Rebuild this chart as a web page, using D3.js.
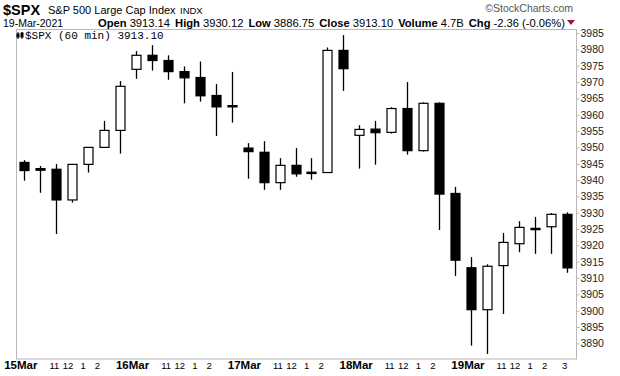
<!DOCTYPE html>
<html>
<head>
<meta charset="utf-8">
<script src="https://cdn.jsdelivr.net/npm/d3@7"></script>
<style>
  body { margin: 0; background: #fff; }
  svg { display: block; font-family: "Liberation Sans", Arial, sans-serif; }
</style>
</head>
<body>
<div class="chart"></div>
<script>
// Hourly candles, 15Mar - 19Mar 2021 (7 bars a day)
let opens = [3945.4, 3943.5, 3943.3, 3933.9, 3944.8, 3950.0, 3955.2,
    3973.9, 3978.2, 3976.6, 3973.2, 3971.4, 3965.9, 3962.8,
    3949.8, 3948.5, 3939.2, 3944.5, 3942.4, 3942.3, 3979.7,
    3953.7, 3955.6, 3954.6, 3961.9, 3949.0, 3963.5, 3935.9,
    3913.14, 3900.3, 3913.8, 3920.5, 3925.2, 3925.7, 3929.5];
let highs = [3946.1, 3944.3, 3944.9, 3944.9, 3950.1, 3958.1, 3970.3,
    3979.5, 3981.3, 3978.2, 3974.8, 3976.3, 3969.4, 3973.1,
    3951.3, 3951.9, 3946.7, 3949.8, 3946.7, 3980.6, 3984.4,
    3956.8, 3958.1, 3962.3, 3970.0, 3963.8, 3963.8, 3937.9,
    3916.4, 3914.2, 3923.8, 3927.4, 3928.7, 3929.9, 3930.12];
let lows = [3939.8, 3936.1, 3923.5, 3933.1, 3942.3, 3949.9, 3948.1,
    3971.0, 3973.5, 3970.7, 3963.5, 3964.0, 3953.5, 3957.6,
    3940.4, 3937.0, 3937.0, 3941.0, 3940.1, 3942.2, 3967.3,
    3943.5, 3944.7, 3954.2, 3947.8, 3948.7, 3924.7, 3910.6,
    3889.3, 3886.75, 3899.0, 3917.9, 3917.4, 3917.4, 3911.6];
let closes = [3942.9, 3943.0, 3933.9, 3944.8, 3950.0, 3955.2, 3968.7,
    3978.2, 3976.6, 3973.2, 3971.3, 3965.8, 3962.4, 3962.4,
    3948.7, 3939.2, 3944.5, 3941.9, 3942.0, 3979.7, 3974.1,
    3955.5, 3954.5, 3961.9, 3949.0, 3963.5, 3935.7, 3915.46,
    3900.3, 3913.6, 3920.9, 3925.5, 3924.8, 3929.5, 3913.10];

let dayLabels = ["15Mar", "16Mar", "17Mar", "18Mar", "19Mar"];
let hourLabels = ["11", "12", "1", "2"];
let hourOffsets = [1.9, 2.75, 3.7, 4.6];   // in bars from the day's first bar
let lastHourLabel = "3";
let yTicks = d3.range(3890, 3986, 5);

let svgWidth = 620;
let svgHeight = 376;
let plot = { left: 16, right: 576, top: 29.5, bottom: 359 };

let svg = d3.select(".chart")
    .append("svg")
    .attr("width", svgWidth)
    .attr("height", svgHeight);

svg.append("rect")
    .attr("width", svgWidth)
    .attr("height", svgHeight)
    .attr("fill", "#fff");

// scales
let x = d3.scaleLinear()
    .domain([0, opens.length - 1])
    .range([24, 567]);

let y = d3.scaleLinear()
    .domain([3885.2, 3986.1])
    .range([plot.bottom, plot.top]);

// frame
svg.append("rect")
    .attr("x", plot.left + 0.5)
    .attr("y", plot.top)
    .attr("width", plot.right - plot.left)
    .attr("height", plot.bottom - plot.top)
    .attr("fill", "none")
    .attr("stroke", "#b8b8b8")
    .attr("stroke-width", 1);

// right axis
let yAxis = svg.append("g")
    .attr("transform", `translate(${plot.right + 0.5},0)`)
    .call(d3.axisRight(y).tickValues(yTicks).tickSize(3).tickPadding(1).tickFormat(d3.format("d")));
yAxis.select(".domain").remove();
yAxis.selectAll("line").attr("stroke", "#b8b8b8");
yAxis.selectAll("text")
    .attr("font-family", "Liberation Sans, Arial, sans-serif")
    .attr("font-size", 10.5)
    .attr("fill", "#222");

// candles
let candles = svg.append("g");
let bodyW = 9;

d3.range(opens.length).forEach(function(i) {
    let up = closes[i] >= opens[i];
    let cx = Math.round(x(i)) + 0.5;
    candles.append("line")
        .attr("x1", cx).attr("x2", cx)
        .attr("y1", y(highs[i]))
        .attr("y2", y(lows[i]))
        .attr("stroke", "#000")
        .attr("stroke-width", 1.3);
    let top = y(Math.max(opens[i], closes[i]));
    let bot = y(Math.min(opens[i], closes[i]));
    candles.append("rect")
        .attr("x", cx - bodyW / 2)
        .attr("y", top)
        .attr("width", bodyW)
        .attr("height", Math.max(bot - top, 0.6))
        .attr("fill", up ? "#fff" : "#000")
        .attr("stroke", "#000")
        .attr("stroke-width", 1.2);
});

// x labels
let xLabels = svg.append("g")
    .attr("font-family", "Liberation Sans, Arial, sans-serif")
    .attr("fill", "#000");

dayLabels.forEach(function(d, k) {
    let first = k * 7;
    xLabels.append("text")
        .attr("x", x(first - 0.2))
        .attr("y", 369)
        .attr("text-anchor", "middle")
        .attr("font-weight", "bold")
        .attr("font-size", 11.5)
        .text(d);
    hourLabels.forEach(function(h, j) {
        xLabels.append("text")
            .attr("x", x(first + hourOffsets[j]))
            .attr("y", 369)
            .attr("text-anchor", "middle")
            .attr("font-size", 9.5)
            .text(h);
    });
});
xLabels.append("text")
    .attr("x", x(opens.length - 1.15))
    .attr("y", 369)
    .attr("text-anchor", "middle")
    .attr("font-size", 9.5)
    .text(lastHourLabel);

// header
svg.append("text")
    .attr("x", 3).attr("y", 14.5)
    .attr("font-weight", "bold")
    .attr("font-size", 14.5)
    .text("$SPX");
svg.append("text")
    .attr("x", 48).attr("y", 14)
    .attr("font-size", 11)
    .text("S&P 500 Large Cap Index");
svg.append("text")
    .attr("x", 180).attr("y", 14)
    .attr("font-size", 9.5)
    .text("INDX");
svg.append("text")
    .attr("x", 573).attr("y", 12)
    .attr("text-anchor", "end")
    .attr("font-size", 10.5)
    .attr("fill", "#555")
    .text("\u00a9StockCharts.com");

svg.append("text")
    .attr("x", 3).attr("y", 27)
    .attr("font-size", 10.5)
    .text("19-Mar-2021");

let info = [["Open", "3913.14"], ["High", "3930.12"], ["Low", "3886.75"],
    ["Close", "3913.10"], ["Volume", "4.7B"], ["Chg", "-2.36 (-0.06%)"]];
let infoText = svg.append("text")
    .attr("x", 565).attr("y", 26.5)
    .attr("text-anchor", "end")
    .attr("font-size", 11.2);
info.forEach(function(p, k) {
    infoText.append("tspan")
        .attr("font-weight", "bold")
        .attr("dx", k === 0 ? 0 : 5)
        .text(p[0]);
    infoText.append("tspan")
        .attr("dx", 3)
        .text(p[1]);
});
svg.append("path")
    .attr("d", "M567,20 L575,20 L571,25 Z")
    .attr("fill", "#99183d");

// legend
let icon = svg.append("g").attr("fill", "#000").attr("stroke", "#000");
icon.append("rect").attr("x", 17).attr("y", 34).attr("width", 2).attr("height", 3);
icon.append("line").attr("x1", 18).attr("x2", 18).attr("y1", 32).attr("y2", 39).attr("stroke-width", 1);
icon.append("rect").attr("x", 21).attr("y", 33).attr("width", 2).attr("height", 4);
icon.append("line").attr("x1", 22).attr("x2", 22).attr("y1", 32).attr("y2", 39).attr("stroke-width", 1);
svg.append("text")
    .attr("x", 25).attr("y", 39)
    .attr("font-family", "Liberation Mono, DejaVu Sans Mono, monospace")
    .attr("font-size", 11)
    .text("$SPX (60 min) 3913.10");
</script>
</body>
</html>
